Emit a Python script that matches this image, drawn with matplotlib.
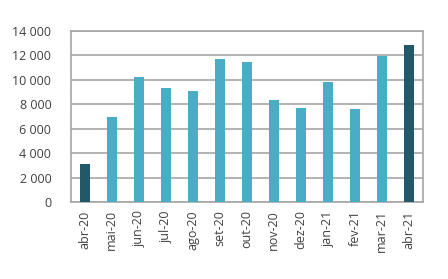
import matplotlib
matplotlib.use("Agg")
import matplotlib.pyplot as plt
from matplotlib.ticker import FuncFormatter

months = ["abr-20", "mai-20", "jun-20", "jul-20", "ago-20", "set-20", "out-20",
          "nov-20", "dez-20", "jan-21", "fev-21", "mar-21", "abr-21"]
values = [3150, 6950, 10270, 9320, 9120, 11720, 11420,
          8360, 7730, 9860, 7650, 11990, 12870]

light = "#4bacc6"
dark = "#215968"
colors = [dark] + [light] * 11 + [dark]

plt.rcParams['font.family'] = ['Open Sans', 'DejaVu Sans']

fig = plt.figure(figsize=(4.48, 2.79), dpi=100)
ax = fig.add_axes([0.158, 0.276, 0.786, 0.613])

x = range(len(months))
ax.bar(x, values, width=0.37, color=colors, zorder=3)

ax.set_ylim(0, 14000)
ax.set_xlim(-0.52, len(months) - 0.48)
ax.set_yticks(range(0, 14001, 2000))
ax.yaxis.set_major_formatter(FuncFormatter(lambda v, p: f"{int(v):,}".replace(",", " ")))
ax.set_xticks(list(x))
ax.set_xticklabels(months, rotation=90)

ax.grid(axis="y", color="#a6a6a6", linewidth=1.2, zorder=0)
for s in ax.spines.values():
    s.set_color("#a6a6a6")
    s.set_linewidth(1.2)
ax.tick_params(length=0, labelsize=9, colors="#404040", pad=6)
ax.tick_params(axis="y", pad=14)

fig.savefig("out.png", dpi=100)
